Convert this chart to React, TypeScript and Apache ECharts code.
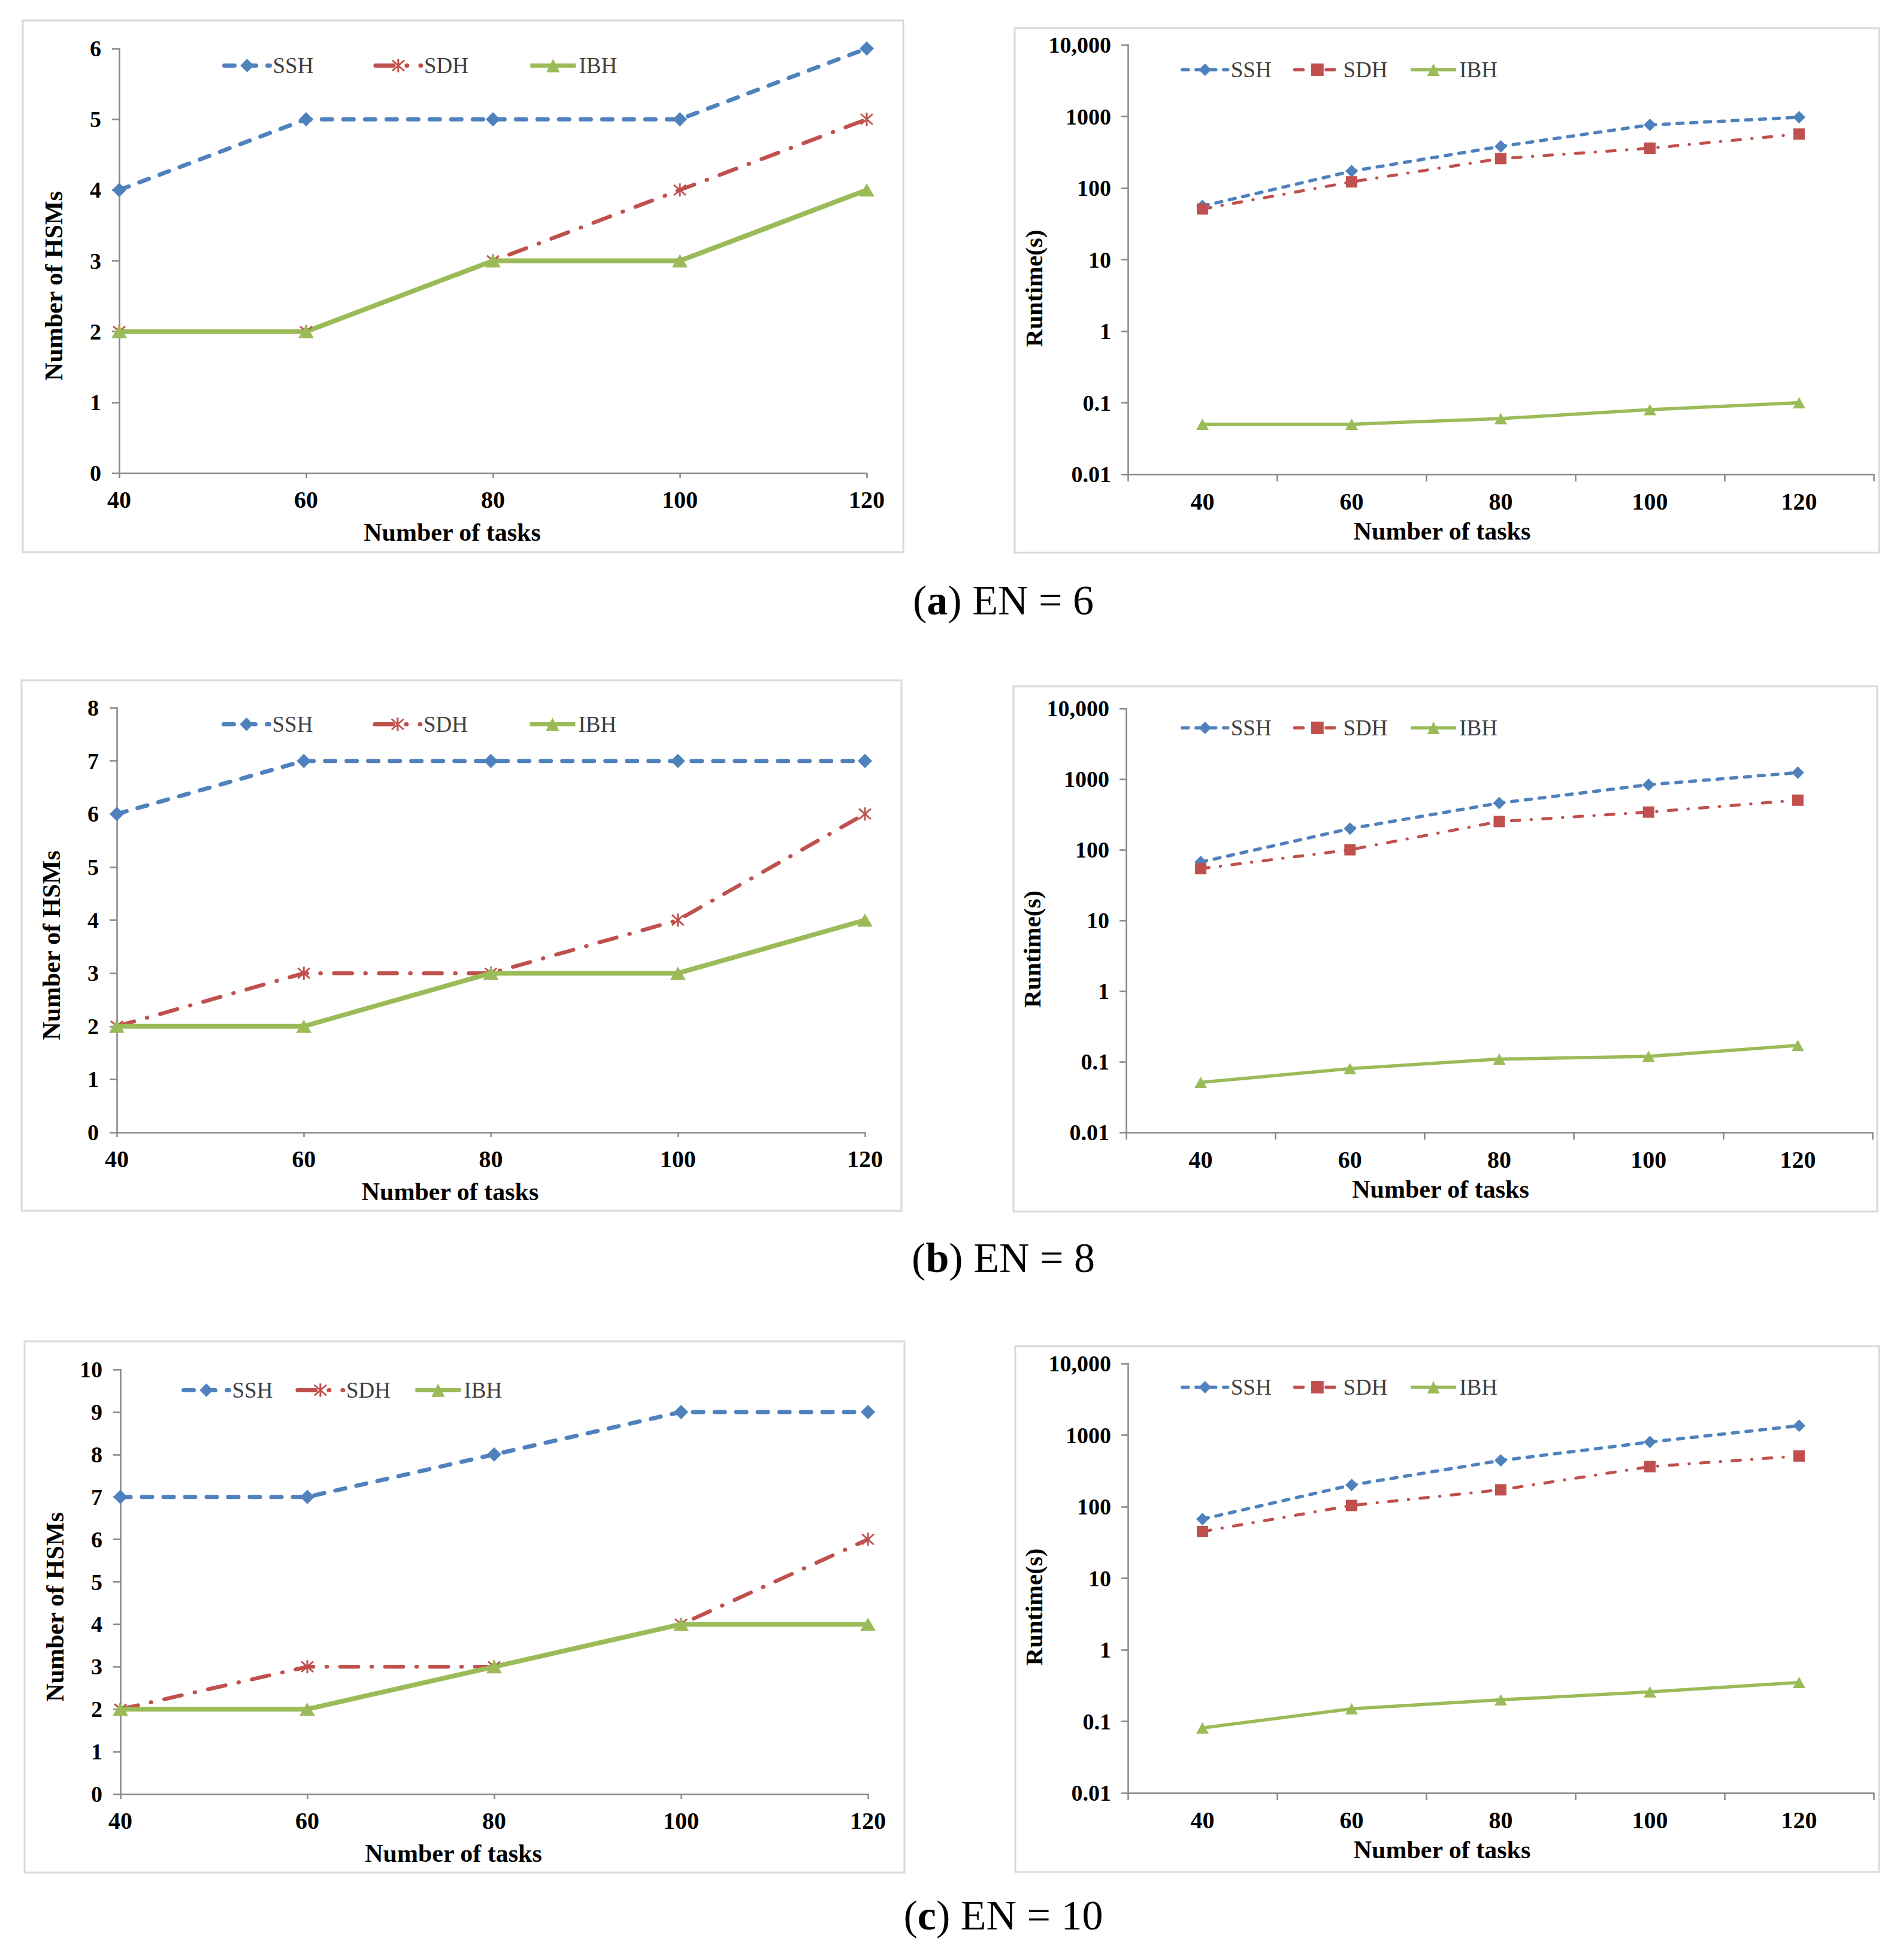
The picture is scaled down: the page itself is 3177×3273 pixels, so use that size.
import React, { useEffect, useRef } from 'react';
import * as echarts from 'echarts';

// ---------- data ----------
const tasks = ['40', '60', '80', '100', '120'];
const seriesNames = ['SSH', 'SDH', 'IBH'];

const hsmSSH_EN6 = [4, 5, 5, 5, 6];
const hsmSDH_EN6 = [2, 2, 3, 4, 5];
const hsmIBH_EN6 = [2, 2, 3, 3, 4];
const hsmSSH_EN8 = [6, 7, 7, 7, 7];
const hsmSDH_EN8 = [2, 3, 3, 4, 6];
const hsmIBH_EN8 = [2, 2, 3, 3, 4];
const hsmSSH_EN10 = [7, 7, 8, 9, 9];
const hsmSDH_EN10 = [2, 3, 3, 4, 6];
const hsmIBH_EN10 = [2, 2, 3, 4, 4];

const rtSSH_EN6 = [56, 172, 382, 763, 976];
const rtSDH_EN6 = [51, 122, 258, 360, 568];
const rtIBH_EN6 = [0.05, 0.05, 0.06, 0.08, 0.1];
const rtSSH_EN8 = [67, 199, 458, 832, 1233];
const rtSDH_EN8 = [54, 100, 251, 341, 503];
const rtIBH_EN8 = [0.051, 0.08, 0.109, 0.119, 0.17];
const rtSSH_EN10 = [67, 201, 442, 800, 1353];
const rtSDH_EN10 = [45, 104, 172, 363, 511];
const rtIBH_EN10 = [0.081, 0.15, 0.2, 0.258, 0.35];

const hsmMax = [6, 8, 10];
const runtimeTickLabels = ['0.01', '0.1', '1', '10', '100', '1000', '10,000'];
const captionLetters = ['a', 'b', 'c'];
const enValues = [6, 8, 10];

// ---------- styles / layout ----------
const FONT = '"Liberation Serif", "Times New Roman", serif';
const BLUE = '#4F81BD';
const RED = '#C0504D';
const GREEN = '#9BBB59';
const AXIS = '#868686';

const ASTERISK =
  'path://M8.8,0L11.2,0L11.2,20L8.8,20Z M1.2,2.9L2.9,1.2L18.8,17.1L17.1,18.8Z M17.1,1.2L18.8,2.9L2.9,18.8L1.2,17.1Z';

// grids: [left, top, right, bottom]
const leftGrids = [
  [199, 81, 1447, 790],
  [195, 1182, 1444, 1891],
  [201, 2287, 1449, 2996],
];
const rightGrids = [
  [1883, 75, 3128, 792],
  [1880, 1183, 3126, 1891],
  [1883, 2277, 3128, 2994],
];
const leftBorders = [
  [38, 34, 1508, 922],
  [36, 1136, 1505, 2022],
  [41, 2240, 1510, 3127],
];
const rightBorders = [
  [1694, 47, 3137, 923],
  [1692, 1146, 3134, 2023],
  [1695, 2248, 3137, 3126],
];
const leftLegends = [
  [366, 104, 100],
  [365, 1204, 100],
  [298, 2316, 38],
];
const rightLegends = [
  [1966, 111, 36],
  [1966, 1210, 36],
  [1966, 2311, 36],
];
const captionPos = [
  [1675, 1002],
  [1675, 2100],
  [1675, 3198],
];

export default function App() {
  const ref = useRef<HTMLDivElement>(null);

  useEffect(() => {
    document.body.style.margin = '0';
    const chart = echarts.init(ref.current!, null, { renderer: 'svg' });

    const hsm = [
      [hsmSSH_EN6, hsmSDH_EN6, hsmIBH_EN6],
      [hsmSSH_EN8, hsmSDH_EN8, hsmIBH_EN8],
      [hsmSSH_EN10, hsmSDH_EN10, hsmIBH_EN10],
    ];
    const rt = [
      [rtSSH_EN6, rtSDH_EN6, rtIBH_EN6],
      [rtSSH_EN8, rtSDH_EN8, rtIBH_EN8],
      [rtSSH_EN10, rtSDH_EN10, rtIBH_EN10],
    ];

    const grids: any[] = [];
    const xAxes: any[] = [];
    const yAxes: any[] = [];
    const series: any[] = [];
    const legends: any[] = [];
    const graphics: any[] = [];

    const tickLabel = { fontFamily: FONT, fontWeight: 'bold', color: '#000' };

    for (let r = 0; r < 3; r++) {
      // ---- left panel (Number of HSMs) ----
      const gi = r * 2;
      const lg = leftGrids[r];
      grids.push({ left: lg[0], top: lg[1], width: lg[2] - lg[0], height: lg[3] - lg[1] });
      xAxes.push({
        gridIndex: gi,
        type: 'category',
        data: tasks,
        boundaryGap: false,
        axisLine: { lineStyle: { color: AXIS, width: 2.5 } },
        axisTick: { show: true, length: 8, lineStyle: { color: AXIS, width: 2.5 } },
        axisLabel: { ...tickLabel, fontSize: 40, margin: 24, interval: 0 },
        splitLine: { show: false },
        name: 'Number of tasks',
        nameLocation: 'middle',
        nameGap: 78,
        nameTextStyle: { ...tickLabel, fontSize: 42, padding: [0, 136, 0, 0] },
      });
      yAxes.push({
        gridIndex: gi,
        type: 'value',
        min: 0,
        max: hsmMax[r],
        interval: 1,
        axisLine: { show: true, lineStyle: { color: AXIS, width: 2.5 } },
        axisTick: { show: true, length: 12, lineStyle: { color: AXIS, width: 2.5 } },
        axisLabel: { ...tickLabel, fontSize: 38, margin: 30 },
        splitLine: { show: false },
        name: 'Number of HSMs',
        nameLocation: 'middle',
        nameGap: 88,
        nameTextStyle: { ...tickLabel, fontSize: 42, padding: [0, 84, 0, 0] },
      });
      const [lssh, lsdh, libh] = hsm[r];
      const sfx = '|' + gi;
      series.push(
        {
          name: 'SSH' + sfx, type: 'line', xAxisIndex: gi, yAxisIndex: gi, data: lssh,
          symbol: 'diamond', symbolSize: 24,
          lineStyle: { color: BLUE, width: 7, type: [17, 19], cap: 'round' },
          itemStyle: { color: BLUE, borderWidth: 0 },
        },
        {
          name: 'SDH' + sfx, type: 'line', xAxisIndex: gi, yAxisIndex: gi, data: lsdh,
          symbol: ASTERISK, symbolSize: 22,
          lineStyle: { color: RED, width: 6.5, type: [30, 22, 1, 22], cap: 'round' },
          itemStyle: { color: RED, borderWidth: 0 },
        },
        {
          name: 'IBH' + sfx, type: 'line', xAxisIndex: gi, yAxisIndex: gi, data: libh,
          symbol: 'triangle', symbolSize: [26, 22],
          lineStyle: { color: GREEN, width: 8 },
          itemStyle: { color: GREEN, borderWidth: 0 },
        }
      );
      const ll = leftLegends[r];
      legends.push({
        left: ll[0], top: ll[1] - 18, itemGap: ll[2], itemWidth: 76, itemHeight: 28,
        selectedMode: false,
        data: seriesNames.map((n) => n + sfx),
        formatter: (n: string) => n.split('|')[0],
        lineStyle: { width: 7 },
        textStyle: { fontFamily: FONT, fontSize: 37, color: '#404040' },
      });

      // ---- right panel (Runtime) ----
      const gj = r * 2 + 1;
      const rg = rightGrids[r];
      grids.push({ left: rg[0], top: rg[1], width: rg[2] - rg[0], height: rg[3] - rg[1] });
      xAxes.push({
        gridIndex: gj,
        type: 'category',
        data: tasks,
        boundaryGap: true,
        axisLine: { lineStyle: { color: AXIS, width: 2.5 } },
        axisTick: { show: true, length: 12, lineStyle: { color: AXIS, width: 2.5 } },
        axisLabel: { ...tickLabel, fontSize: 40, margin: 25, interval: 0 },
        splitLine: { show: false },
        name: 'Number of tasks',
        nameLocation: 'middle',
        nameGap: 74,
        nameTextStyle: { ...tickLabel, fontSize: 42, padding: [0, 196, 0, 0] },
      });
      yAxes.push({
        gridIndex: gj,
        type: 'log',
        logBase: 10,
        min: 0.01,
        max: 10000,
        axisLine: { show: true, lineStyle: { color: AXIS, width: 2.5 } },
        axisTick: { show: true, length: 11, lineStyle: { color: AXIS, width: 2.5 } },
        axisLabel: {
          ...tickLabel,
          fontSize: 38,
          margin: 28,
          formatter: (v: number) => runtimeTickLabels[Math.round(Math.log10(v)) + 2],
        },
        minorTick: { show: false },
        splitLine: { show: false },
        name: 'Runtime(s)',
        nameLocation: 'middle',
        nameGap: 131,
        nameTextStyle: { ...tickLabel, fontSize: 41, padding: [0, 96, 0, 0] },
      });
      const [rssh, rsdh, ribh] = rt[r];
      const sfx2 = '|' + gj;
      series.push(
        {
          name: 'SSH' + sfx2, type: 'line', xAxisIndex: gj, yAxisIndex: gj, data: rssh,
          symbol: 'diamond', symbolSize: 21,
          lineStyle: { color: BLUE, width: 5.5, type: [10, 13], cap: 'round' },
          itemStyle: { color: BLUE, borderWidth: 0 },
        },
        {
          name: 'SDH' + sfx2, type: 'line', xAxisIndex: gj, yAxisIndex: gj, data: rsdh,
          symbol: 'rect', symbolSize: 19,
          lineStyle: { color: RED, width: 5, type: [14, 19, 0.5, 19], cap: 'round' },
          itemStyle: { color: RED, borderWidth: 0 },
        },
        {
          name: 'IBH' + sfx2, type: 'line', xAxisIndex: gj, yAxisIndex: gj, data: ribh,
          symbol: 'triangle', symbolSize: [21, 19],
          lineStyle: { color: GREEN, width: 5.5 },
          itemStyle: { color: GREEN, borderWidth: 0 },
        }
      );
      const rl = rightLegends[r];
      legends.push({
        left: rl[0], top: rl[1] - 18, itemGap: rl[2], itemWidth: 76, itemHeight: 26,
        selectedMode: false,
        data: seriesNames.map((n) => n + sfx2),
        formatter: (n: string) => n.split('|')[0],
        lineStyle: { width: 5.5 },
        textStyle: { fontFamily: FONT, fontSize: 37, color: '#404040' },
      });

      // ---- borders ----
      for (const b of [leftBorders[r], rightBorders[r]]) {
        graphics.push({
          type: 'rect',
          z: -1,
          shape: { x: b[0], y: b[1], width: b[2] - b[0], height: b[3] - b[1] },
          style: { fill: 'none', stroke: '#D9D9D9', lineWidth: 3 },
        });
      }

      // ---- caption ----
      const cp = captionPos[r];
      graphics.push({
        type: 'text',
        x: cp[0],
        y: cp[1],
        style: {
          text: '({b|' + captionLetters[r] + '}) EN = ' + enValues[r],
          rich: { b: { fontFamily: FONT, fontSize: 70, fontWeight: 'bold', fill: '#000' } },
          fontFamily: FONT,
          fontSize: 70,
          fill: '#000',
          align: 'center',
          verticalAlign: 'middle',
        },
      });
    }

    chart.setOption({
      animation: false,
      backgroundColor: '#fff',
      grid: grids,
      xAxis: xAxes,
      yAxis: yAxes,
      legend: legends,
      series,
      graphic: graphics,
    });

    return () => chart.dispose();
  }, []);

  return (
    <div
      ref={ref}
      style={{ position: 'absolute', left: 0, top: 0, width: 3177, height: 3273, background: '#fff' }}
    />
  );
}
